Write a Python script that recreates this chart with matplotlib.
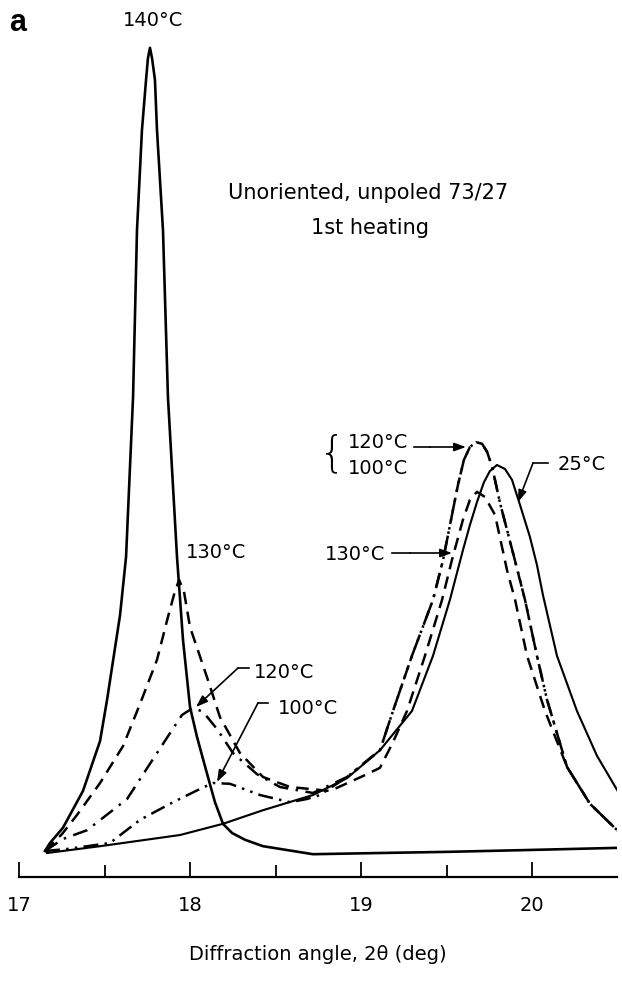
import matplotlib
matplotlib.use("Agg")
import matplotlib.pyplot as plt
from matplotlib.ticker import FixedLocator

plt.rcParams['font.family'] = ['DejaVu Sans']

# ---------------- data (diffraction angle 2theta in deg, intensity arb. units) ----
x_140 = [17.152, 17.181, 17.257, 17.374, 17.474, 17.515, 17.591, 17.626, 17.667, 17.690,
         17.719, 17.743, 17.754, 17.766, 17.778, 17.795, 17.807, 17.842, 17.871, 17.924,
         17.959, 18.000, 18.041, 18.094, 18.146, 18.193, 18.246, 18.322, 18.427, 18.719,
         19.111, 19.520, 19.930, 20.515]
y_140 = [0.5, 1.5, 3.4, 8.0, 14.25, 19.4, 30.0, 37.25, 57.25, 78.1,
         90.6, 96.9, 99.6, 100.9, 99.6, 96.9, 90.6, 78.1, 57.25, 37.25,
         26.9, 18.5, 14.75, 10.6, 6.6, 3.9, 2.75, 1.9, 1.1, 0.1,
         0.25, 0.4, 0.6, 0.9]

x_130 = [17.152, 17.251, 17.339, 17.474, 17.608, 17.708, 17.807, 17.871, 17.906, 17.936,
         17.965, 18.000, 18.099, 18.175, 18.292, 18.427, 18.585, 18.819, 19.035, 19.111,
         19.187, 19.269, 19.374, 19.474, 19.532, 19.596, 19.637, 19.678, 19.725, 19.784,
         19.854, 19.901, 19.971, 20.076, 20.205, 20.339, 20.515]
y_130 = [0.5, 2.6, 5.0, 9.0, 13.6, 18.9, 24.4, 29.75, 32.5, 34.4,
         32.9, 28.5, 22.25, 17.25, 12.75, 9.75, 8.5, 8.0, 10.1, 10.9,
         14.1, 18.0, 24.9, 31.9, 36.9, 41.9, 44.4, 45.4, 44.75, 42.5,
         35.6, 31.9, 24.9, 18.0, 11.0, 6.4, 2.75]

x_120 = [17.152, 17.257, 17.398, 17.632, 17.807, 17.953, 18.018, 18.076, 18.158, 18.251,
         18.392, 18.526, 18.719, 18.918, 19.111, 19.187, 19.298, 19.421, 19.480, 19.532,
         19.567, 19.602, 19.637, 19.673, 19.708, 19.737, 19.766, 19.813, 19.889, 19.959,
         20.029, 20.088, 20.205, 20.339, 20.515]
y_120 = [0.5, 2.0, 3.1, 7.0, 12.75, 17.5, 18.4, 17.9, 15.75, 12.75,
         10.1, 8.5, 7.75, 9.75, 13.1, 18.0, 24.9, 31.9, 36.9, 42.5,
         46.25, 49.4, 51.0, 51.6, 51.4, 50.4, 48.6, 44.0, 37.75, 31.9,
         24.9, 19.4, 11.0, 6.4, 2.75]

x_100 = [17.152, 17.281, 17.532, 17.708, 17.901, 18.058, 18.135, 18.234, 18.409, 18.585,
         18.684, 18.760, 18.918, 19.111, 19.187, 19.298, 19.421, 19.480, 19.532,
         19.567, 19.602, 19.637, 19.673, 19.708, 19.737, 19.766, 19.813, 19.889, 19.959,
         20.029, 20.088, 20.205, 20.339, 20.515]
y_100 = [0.5, 0.75, 1.5, 4.4, 6.6, 8.25, 9.0, 8.9, 7.5, 6.6,
         7.0, 7.5, 9.75, 13.1, 18.0, 24.9, 31.9, 36.9, 42.5,
         46.25, 49.4, 51.0, 51.6, 51.4, 50.4, 48.6, 44.0, 37.75, 31.9,
         24.9, 19.4, 11.0, 6.4, 2.75]

x_25 = [17.164, 17.474, 17.942, 18.193, 18.427, 18.719, 18.918, 19.111, 19.298, 19.421,
        19.520, 19.596, 19.637, 19.678, 19.719, 19.754, 19.795, 19.842, 19.883, 19.930,
        19.988, 20.029, 20.064, 20.146, 20.263, 20.380, 20.515]
y_25 = [0.25, 1.1, 2.5, 3.9, 5.6, 7.5, 9.6, 13.1, 18.0, 24.9,
        31.9, 38.1, 41.25, 44.1, 46.6, 48.0, 48.75, 48.25, 46.9, 43.75,
        39.75, 36.25, 32.5, 24.9, 18.0, 12.4, 7.5]

major_ticks = [17, 18, 19, 20]
minor_ticks = [17.5, 18.5, 19.5, 20.5]
tick_labels = ["17", "18", "19", "20"]

# ---------------- layout helpers (pixel -> data) ----------------
W, H = 622, 983
X0PX, X1PX = 19, 617
AXIS_PX = 877


def px(xp, yp):
    return 17 + (xp - X0PX) / 171.0, (855 - yp) / 8.0


ylo = px(0, AXIS_PX)[1]
yhi = px(0, 0)[1]

fig = plt.figure(figsize=(W / 100, H / 100), dpi=100)
ax = fig.add_axes([X0PX / W, (H - AXIS_PX) / H, (X1PX - X0PX) / W, AXIS_PX / H])
ax.set_xlim(17, 17 + (X1PX - X0PX) / 171.0)
ax.set_ylim(ylo, yhi)

lw = 1.8
ax.plot(x_140, y_140, color='black', lw=lw * 1.05, solid_joinstyle='round')
ax.plot(x_25, y_25, color='black', lw=lw * 0.85, solid_joinstyle='round')
ax.plot(x_130, y_130, color='black', lw=lw, dashes=(5, 3))
ax.plot(x_120, y_120, color='black', lw=lw, dashes=(6, 3, 1, 3))
ax.plot(x_100, y_100, color='black', lw=lw, dashes=(6, 2.5, 1, 2.5, 1, 2.5))

# axis styling
for s in ['left', 'right', 'top']:
    ax.spines[s].set_visible(False)
ax.spines['bottom'].set_linewidth(1.6)
ax.set_yticks([])
ax.xaxis.set_major_locator(FixedLocator(major_ticks))
ax.xaxis.set_minor_locator(FixedLocator(minor_ticks))
ax.set_xticklabels(tick_labels, fontsize=14)
ax.tick_params(axis='x', which='major', direction='in', length=11, width=1.3, pad=14)
ax.tick_params(axis='x', which='minor', direction='in', length=8.5, width=1.3)
ax.set_xlabel("Diffraction angle, 2θ (deg)", fontsize=14, labelpad=21)

fs = 14
def label(text, xp, yp, **kw):
    x, y = px(xp, yp)
    ax.text(x, y, text, fontsize=kw.pop('fontsize', fs), ha=kw.pop('ha', 'center'),
            va=kw.pop('va', 'center'), clip_on=False, **kw)

def leader(pts, tip):
    xs = [px(*p)[0] for p in pts]
    ys = [px(*p)[1] for p in pts]
    ax.plot(xs, ys, color='black', lw=1.2, clip_on=False)
    ax.annotate('', xy=px(*tip), xytext=px(*pts[-1]),
                arrowprops=dict(arrowstyle='-|>,head_length=0.7,head_width=0.25',
                                color='black', lw=1.2, shrinkA=0, shrinkB=0))

label('a', 18, 23, fontsize=22, fontweight='bold', family='Liberation Sans')
label('140°C', 153, 20)
label('Unoriented, unpoled 73/27', 368, 193, fontsize=15)
label('1st heating', 370, 228, fontsize=15)

label('130°C', 216, 552)
label('120°C', 284, 673)
leader([(249, 668), (238, 668)], (196, 707))
label('100°C', 308, 708)
leader([(268, 703), (258, 703)], (217, 782))

label('25°C', 582, 465)
leader([(548, 463), (533, 463)], (518, 502))

label('120°C', 378, 442)
label('100°C', 378, 468)
label('{', 332, 454, fontsize=30, fontweight='ultralight', family='DejaVu Sans')
leader([(414, 447), (430, 447)], (466, 447))

label('130°C', 355, 555)
leader([(392, 553), (410, 553)], (452, 553))

fig.savefig('out.png', dpi=100)
